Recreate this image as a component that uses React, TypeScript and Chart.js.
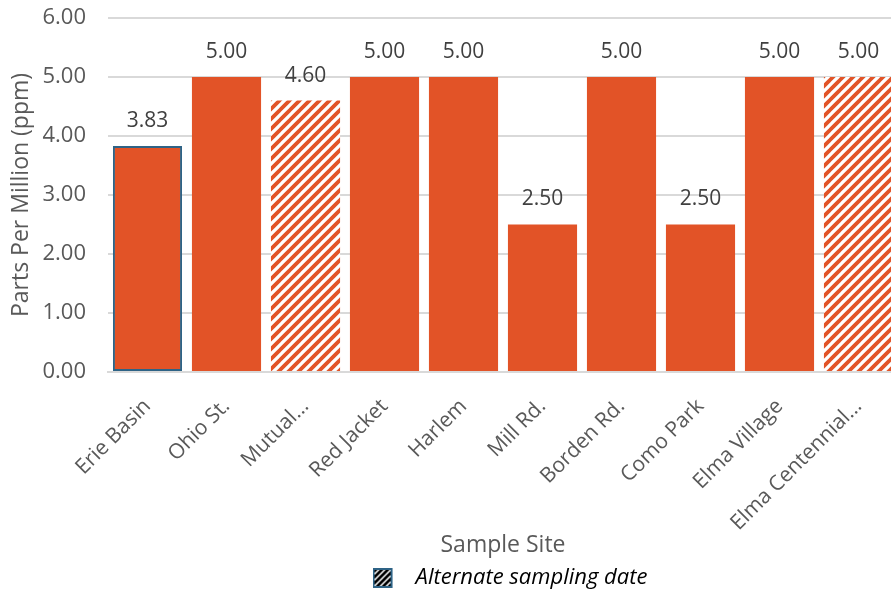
import { useEffect, useRef } from 'react';
import { Chart, registerables } from 'chart.js';

Chart.register(...registerables);

// Sample sites and measured concentrations (ppm)
const sites = [
  'Erie Basin',
  'Ohio St.',
  'Mutual...',
  'Red Jacket',
  'Harlem',
  'Mill Rd.',
  'Borden Rd.',
  'Como Park',
  'Elma Village',
  'Elma Centennial...',
];
const ppm = [3.83, 5.0, 4.6, 5.0, 5.0, 2.5, 5.0, 2.5, 5.0, 5.0];
// Sites sampled on an alternate date are drawn hatched
const alternateDate = [false, false, true, false, false, false, false, false, false, true];
// Site drawn with an outline
const outlined = [true, false, false, false, false, false, false, false, false, false];

const yMin = 0;
const yMax = 6;
const yStep = 1;

const xTitle = 'Sample Site';
const yTitle = 'Parts Per Million (ppm)';
const legendText = 'Alternate sampling date';

const ORANGE = '#E25327';
const OUTLINE = '#2E6386';
const GRID = '#D9D9D9';
const AXIS_TEXT = '#595959';
const LABEL_TEXT = '#404040';
const FONT = "'Open Sans', 'Noto Sans', sans-serif";

function stripeTile(size: number, color: string, bg: string, width: number): HTMLCanvasElement {
  const c = document.createElement('canvas');
  c.width = size;
  c.height = size;
  const g = c.getContext('2d')!;
  g.fillStyle = bg;
  g.fillRect(0, 0, size, size);
  g.strokeStyle = color;
  g.lineWidth = width;
  g.lineCap = 'square';
  g.beginPath();
  for (const o of [-size, 0, size]) {
    g.moveTo(o, size);
    g.lineTo(o + size, 0);
  }
  g.stroke();
  return c;
}

function legendIcon(): HTMLCanvasElement {
  const c = document.createElement('canvas');
  c.width = 32;
  c.height = 22;
  const g = c.getContext('2d')!;
  const pat = g.createPattern(stripeTile(6, '#000000', '#FFFFFF', 2.8), 'repeat')!;
  g.fillStyle = pat;
  g.fillRect(1, 2, 18, 18);
  g.strokeStyle = OUTLINE;
  g.lineWidth = 2;
  g.strokeRect(1, 2, 18, 18);
  return c;
}

// Value labels above each bar
const valueLabels = {
  id: 'valueLabels',
  afterDatasetsDraw(chart: any) {
    const ctx = chart.ctx;
    const meta = chart.getDatasetMeta(0);
    ctx.save();
    ctx.font = `21px ${FONT}`;
    ctx.fillStyle = LABEL_TEXT;
    ctx.textAlign = 'center';
    ctx.textBaseline = 'middle';
    meta.data.forEach((el: any, i: number) => {
      ctx.fillText(ppm[i].toFixed(2), el.x, el.y - 25);
    });
    ctx.restore();
  },
};

// Shift the legend row slightly right and down
const legendOffset = {
  id: 'legendOffset',
  afterLayout(chart: any) {
    const l = chart.legend;
    if (!l) return;
    l.left += 7;
    l.right += 7;
    l.top += 7;
    l.bottom += 7;
  },
};

export default function App() {
  const canvasRef = useRef<HTMLCanvasElement | null>(null);

  useEffect(() => {
    const canvas = canvasRef.current;
    if (!canvas) return;
    const ctx = canvas.getContext('2d')!;
    const hatch = ctx.createPattern(stripeTile(10, ORANGE, '#FFFFFF', 3.8), 'repeat')!;
    const icon = legendIcon();

    const chart = new Chart(canvas, {
      type: 'bar',
      data: {
        labels: sites,
        datasets: [
          {
            label: 'ppm',
            data: ppm,
            backgroundColor: alternateDate.map((a) => (a ? hatch : ORANGE)) as any,
            borderColor: outlined.map((o) => (o ? OUTLINE : 'rgba(0,0,0,0)')),
            borderWidth: outlined.map((o) => (o ? 2 : 0)),
            borderSkipped: false,
            categoryPercentage: 1,
            barPercentage: 0.875,
          },
        ],
      },
      options: {
        responsive: false,
        animation: false,
        devicePixelRatio: 1,
        layout: { padding: { top: 18, left: 0, right: 0, bottom: 0 } },
        font: { family: FONT },
        scales: {
          x: {
            grid: { display: false, drawTicks: false },
            border: { display: true, color: GRID, width: 2 },
            ticks: {
              color: AXIS_TEXT,
              font: { family: FONT, size: 21 },
              maxRotation: 45,
              minRotation: 45,
              autoSkip: false,
              padding: 22,
            },
            title: {
              display: true,
              text: xTitle,
              color: AXIS_TEXT,
              font: { family: FONT, size: 23 },
              padding: { top: 4, bottom: 0 },
            },
            afterFit(scale: any) {
              scale.height = 187;
              scale.paddingLeft = 0;
              scale.paddingRight = 0;
            },
          },
          y: {
            min: yMin,
            max: yMax,
            grid: { color: GRID, lineWidth: 2, drawTicks: false },
            border: { display: false },
            ticks: {
              stepSize: yStep,
              color: AXIS_TEXT,
              font: { family: FONT, size: 22 },
              padding: 22,
              callback: (v: any) => Number(v).toFixed(2),
            },
            title: {
              display: true,
              text: yTitle,
              color: AXIS_TEXT,
              font: { family: FONT, size: 23 },
              padding: { top: 8, bottom: 4 },
            },
            afterFit(scale: any) {
              scale.width = 108;
              scale.paddingTop = 0;
              scale.paddingBottom = 0;
            },
          },
        },
        plugins: {
          tooltip: { enabled: false },
          legend: {
            display: true,
            position: 'bottom',
            fullSize: false,
            onClick: () => {},
            labels: {
              usePointStyle: true,
              pointStyle: icon as any,
              pointStyleWidth: 32,
              boxHeight: 22,
              padding: 1,
              color: '#000000',
              font: { family: FONT, size: 22, style: 'italic' },
              generateLabels: () => [
                {
                  text: legendText,
                  fillStyle: '#000000',
                  strokeStyle: OUTLINE,
                  lineWidth: 2,
                  pointStyle: icon as any,
                  hidden: false,
                  datasetIndex: 0,
                  fontColor: '#000000',
                } as any,
              ],
            },
          },
        },
      },
      plugins: [valueLabels, legendOffset],
    });

    return () => chart.destroy();
  }, []);

  return (
    <div style={{ position: 'fixed', left: 0, top: 0, right: 0, bottom: 0, overflow: 'hidden', background: '#FFFFFF' }}>
      <canvas ref={canvasRef} width={898} height={592} style={{ display: 'block' }} />
    </div>
  );
}
